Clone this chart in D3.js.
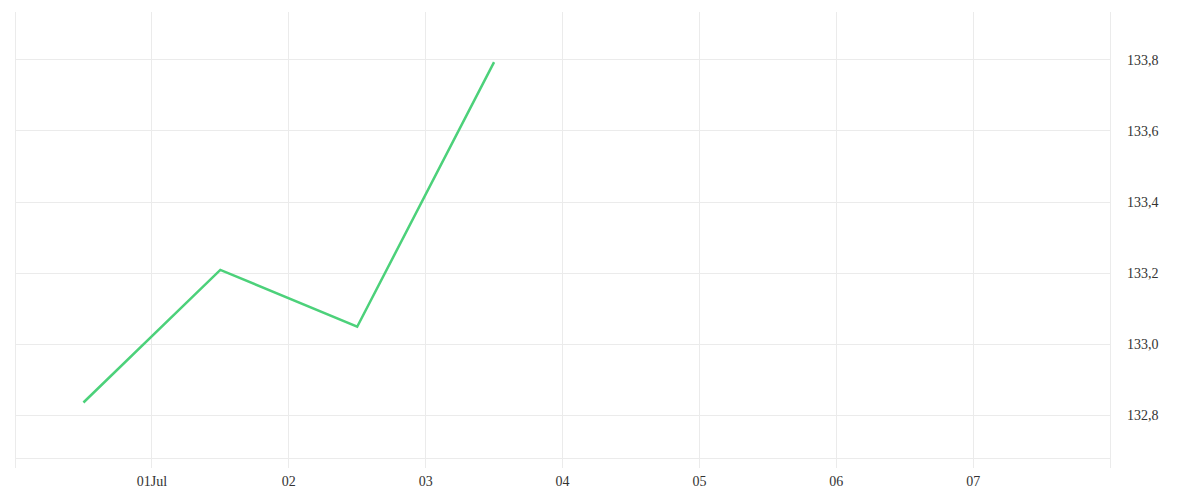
<!DOCTYPE html>
<html>
<head>
<meta charset="utf-8">
<script src="https://cdn.jsdelivr.net/npm/d3@7"></script>
<style>
  html, body { margin: 0; padding: 0; background: #fff; }
  svg { display: block; }
  text { font-family: "Liberation Serif", "DejaVu Serif", serif; font-size: 14px; fill: #333; }
</style>
</head>
<body>
<svg id="chart" width="1200" height="500"></svg>
<script>
// Data
const dates = ["2023-06-30T12:00", "2023-07-01T12:00", "2023-07-02T12:00", "2023-07-03T12:00"];
const values = [132.835, 133.208, 133.048, 133.792];
const xTickDates = ["2023-07-01", "2023-07-02", "2023-07-03", "2023-07-04", "2023-07-05", "2023-07-06", "2023-07-07"];
const xTickLabels = ["01Jul", "02", "03", "04", "05", "06", "07"];
const yTicks = [132.8, 133.0, 133.2, 133.4, 133.6, 133.8];
const yTickLabels = ["132,8", "133,0", "133,2", "133,4", "133,6", "133,8"];
const xDomain = ["2023-06-30", "2023-07-08"];
const yDomain = [132.679, 133.933];

const parse = d3.timeParse("%Y-%m-%dT%H:%M");
const parseDay = d3.timeParse("%Y-%m-%d");

const svg = d3.select("#chart");
const mLeft = 15, mRight = 1110, mTop = 12, mBottom = 458;

const x = d3.scaleTime().domain(xDomain.map(parseDay)).range([mLeft, mRight]);
const y = d3.scaleLinear().domain(yDomain).range([mBottom, mTop]);

const grid = "#ebebeb";

// vertical gridlines (with tick extension)
svg.append("g").selectAll("line").data(xTickDates.concat(xDomain)).join("line")
  .attr("x1", d => Math.floor(x(parseDay(d))) + 0.5)
  .attr("x2", d => Math.floor(x(parseDay(d))) + 0.5)
  .attr("y1", mTop).attr("y2", mBottom + 10)
  .attr("stroke", grid).attr("stroke-width", 1);

// horizontal gridlines
svg.append("g").selectAll("line").data(yTicks).join("line")
  .attr("x1", mLeft).attr("x2", mRight)
  .attr("y1", d => Math.round(y(d)) + 0.5)
  .attr("y2", d => Math.round(y(d)) + 0.5)
  .attr("stroke", grid).attr("stroke-width", 1);

// bottom baseline
svg.append("line")
  .attr("x1", mLeft).attr("x2", mRight)
  .attr("y1", mBottom + 0.5).attr("y2", mBottom + 0.5)
  .attr("stroke", grid).attr("stroke-width", 1);

// x labels
svg.append("g").selectAll("text").data(xTickDates).join("text")
  .attr("x", d => x(parseDay(d)))
  .attr("y", 486)
  .attr("text-anchor", "middle")
  .text((d, i) => xTickLabels[i]);

// y labels
svg.append("g").selectAll("text").data(yTicks).join("text")
  .attr("x", 1127)
  .attr("y", d => y(d))
  .attr("dy", "0.38em")
  .text((d, i) => yTickLabels[i]);

// line
const line = d3.line()
  .x((d, i) => x(parse(dates[i])))
  .y(d => y(d));

svg.append("path")
  .datum(values)
  .attr("d", line)
  .attr("fill", "none")
  .attr("stroke", "#4cd17a")
  .attr("stroke-width", 2.5)
  .attr("stroke-linejoin", "miter");
</script>
</body>
</html>
